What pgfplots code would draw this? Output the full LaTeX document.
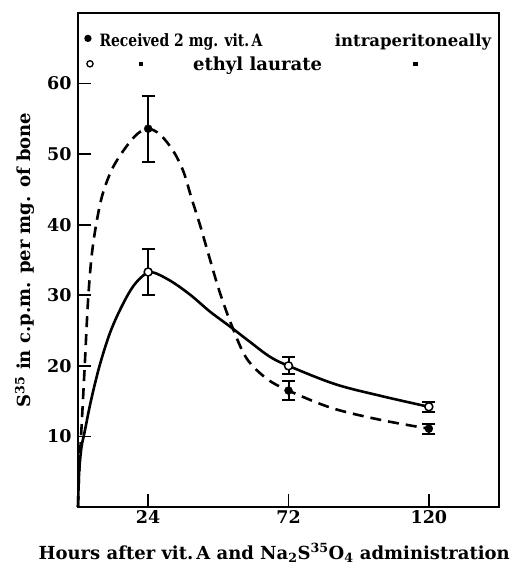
\documentclass[border=0pt]{standalone}
\usepackage{fontspec}
\setmainfont{DejaVu Serif}
\usepackage{graphicx}
\usepackage{pgfplots}
\pgfplotsset{compat=1.18}

\begin{document}
\begin{tikzpicture}
\begin{axis}[
  scale only axis, width=421pt, height=494pt,
  xmin=0, xmax=144, ymin=0, ymax=70,
  axis line style={line width=1.8pt},
  xtick={24,72,120}, ytick={10,20,30,40,50,60},
  tick align=inside, major tick length=13pt,
  tick style={line width=1.6pt, black},
  xtick pos=bottom, ytick pos=left,
  /pgf/number format/assume math mode=true,
  ticklabel style={font=\bfseries\fontsize{17.5}{17.5}\selectfont},
  yticklabel style={xshift=-3pt},
  xlabel={Hours after vit.\,A and Na\textsubscript{2}S\textsuperscript{35}O\textsubscript{4} administration},
  ylabel={S\textsuperscript{35} in c.p.m. per mg. of bone},
  label style={font=\bfseries\fontsize{18}{20}\selectfont},
  xlabel style={at={(axis description cs:0.466,-0.093)}, anchor=center},
  ylabel style={at={(axis description cs:-0.126,0.5)}, anchor=center},
  clip=false,
]
% vit. A group (dashed, filled dots)
\addplot[black, line width=2.6pt, dash pattern=on 11pt off 7pt, smooth, tension=0.55]
  coordinates {(0,0)(0.4,5)(1.3,12)(2.3,20)(3.4,29)(4.6,35.3)(6.2,40.0)(8.4,44.3)
               (11.8,48.0)(16.4,51.0)(20.4,52.9)(24,53.6)(28,52.8)(32.5,50.5)(36,47.6)
               (38.8,43.8)(41.7,40.0)(44.5,36)(48.2,30.8)(52.5,25.8)(57.6,21.1)
               (64.5,18.2)(72,16.5)(87,14.0)(104,12.3)(120,11.1)};
% ethyl laurate group (solid, open circles)
\addplot[black, line width=2.6pt, smooth, tension=0.55]
  coordinates {(0,0)(0.4,5)(1.2,8.5)(2.2,10.5)(4.4,15)(7.3,19.9)(10.7,24.4)(14.1,27.7)
               (18.1,30.8)(21.5,32.5)(25,33.3)(31.4,32.1)(38.3,30.1)(45.1,27.7)
               (51.9,25.6)(58.8,23.4)(65.6,21.3)(72,20.0)(88,17.4)(104,15.7)(120,14.2)};

\addplot[black, only marks, mark=*, mark size=4pt,
  error bars/.cd, y dir=both, y explicit,
  error bar style={line width=2pt},
  error mark options={rotate=90, mark size=6.5pt, line width=2pt}]
  coordinates {(24,53.6) +- (0,4.7) (72,16.5) +- (0,1.3) (120,11.1) +- (0,0.7)};
\addplot[black, only marks, mark=*, mark size=4pt, mark options={fill=white, line width=1.5pt},
  error bars/.cd, y dir=both, y explicit,
  error bar style={line width=2pt},
  error mark options={rotate=90, mark size=6.5pt, line width=2pt}]
  coordinates {(24,33.3) +- (0,3.2) (72,20.0) +- (0,1.2) (120,14.2) +- (0,0.7)};

% legend text
\node[circle, fill, inner sep=2.6pt] at (axis cs:3.4,66.4) {};
\node[anchor=base west, font=\bfseries\fontsize{17}{16}\selectfont, inner sep=0pt] at (axis cs:7.3,65.3)
  {\scalebox{0.82}[1]{Received 2 mg. vit.\,A}};
\node[anchor=base west, font=\bfseries\fontsize{16.5}{16}\selectfont, inner sep=0pt] at (axis cs:87.8,65.3)
  {intraperitoneally};
\node[anchor=base west, font=\bfseries\fontsize{18}{16}\selectfont, inner sep=0pt] at (axis cs:39.3,61.8)
  {ethyl laurate};
\node[circle, draw, line width=1.3pt, inner sep=2.2pt] at (axis cs:4.1,62.8) {};
\node[fill, inner sep=2.3pt] at (axis cs:21.5,62.8) {};
\node[fill, inner sep=2.3pt] at (axis cs:115.5,62.8) {};
\end{axis}
\pgfresetboundingbox
\path[use as bounding box] ([xshift=-78pt,yshift=-63pt]current axis.south west)
  rectangle ([xshift=23pt,yshift=13pt]current axis.north east);
\end{tikzpicture}
\end{document}
